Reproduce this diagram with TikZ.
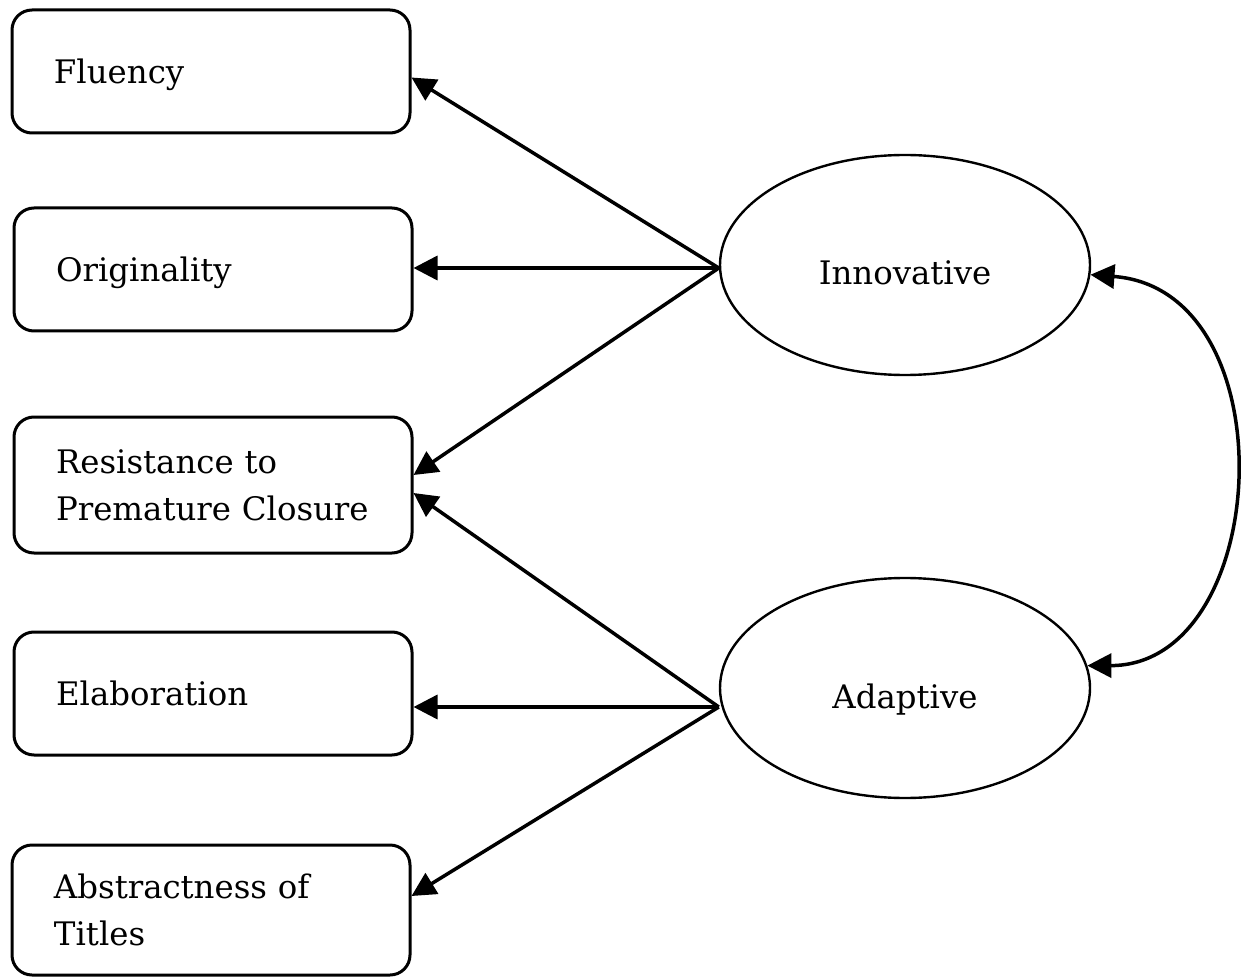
\documentclass[tikz,border=0pt]{standalone}
\usepackage{fontspec}
\setmainfont{DejaVu Serif}
\usetikzlibrary{shapes.geometric,arrows.meta}

\begin{document}
\begin{tikzpicture}[x=0.5pt,y=-0.5pt,>={Triangle[length=12pt,width=12pt]},
  box/.style={draw,line width=1.5pt,rounded corners=10pt,minimum width=199pt,
    inner xsep=21pt,text width=157pt,align=left,
    font=\fontsize{16.2}{23.5}\selectfont},
  oneline/.style={box,text depth=0pt,minimum height=61.5pt},
  latent/.style={draw,ellipse,line width=1.2pt,minimum width=185pt,minimum height=110pt,
    inner sep=0pt,text height=20pt,text depth=0pt,font=\fontsize{16.2}{23.5}\selectfont},
  path/.style={->,line width=1.75pt}]

% frame
\useasboundingbox (0,0) rectangle (1241,978);

% observed
\node[oneline] (flu) at (211,71.5) {Fluency};
\node[oneline] (ori) at (213,269.5) {Originality};
\node[box,minimum height=68pt] (res) at (213,485) {Resistance to\\\mbox{Premature Closure}};
\node[oneline] (ela) at (213,693.5) {Elaboration};
\node[box,minimum height=65pt] (abs) at (211,910) {Abstractness of\\Titles};

% latent
\node[latent] (inn) at (905,265) {Innovative};
\node[latent] (ada) at (905,688) {Adaptive};

\coordinate (innw) at ([yshift=-1.5pt]inn.west);
\coordinate (adaw) at ([yshift=-9.5pt]ada.west);

% loadings
\draw[path] (innw) -- ([yshift=-3pt]flu.east);
\draw[path] (innw) -- (ori.east |- innw);
\draw[path] (innw) -- ([yshift=5pt]res.east);
\draw[path] (adaw) -- ([yshift=-4pt]res.east);
\draw[path] (adaw) -- (ela.east |- adaw);
\draw[path] (adaw) -- ([yshift=7pt]abs.east);

% covariance
\draw[<->,line width=1.75pt] (inn.-3) .. controls +(200,15) and +(185,0) .. (ada.7);

\end{tikzpicture}
\end{document}
